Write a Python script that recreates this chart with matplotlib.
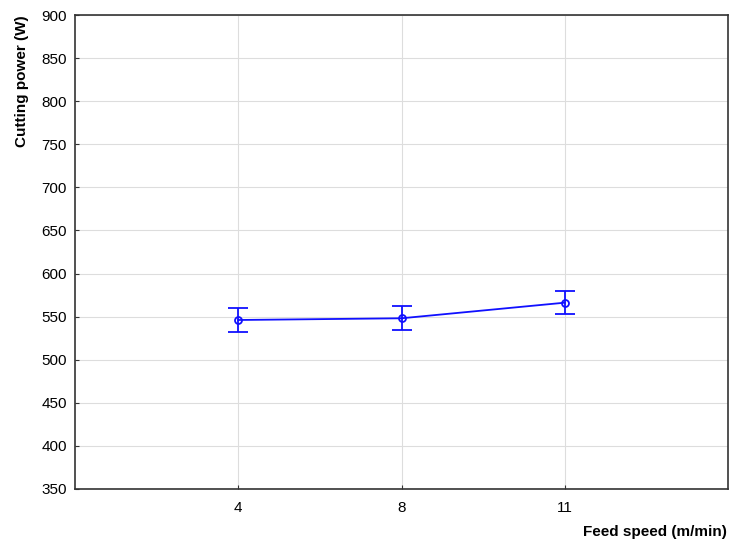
import matplotlib
matplotlib.use('Agg')
import matplotlib.pyplot as plt

# data
feed_speed = ['4', '8', '11']
cutting_power = [546.1, 548.1, 566.2]
error = [14.0, 13.8, 13.4]

plt.rcParams['font.family'] = ['Liberation Sans', 'DejaVu Sans']

fig = plt.figure(figsize=(7.31, 5.42), dpi=100)
ax = fig.add_axes([0.1026, 0.0978, 0.8933, 0.8745])

x = list(range(1, len(feed_speed) + 1))
ax.errorbar(x, cutting_power, yerr=error, color='#1010ff', lw=1.3,
            marker='o', ms=5, mfc='none', mew=1.3, capsize=7, capthick=1.3,
            elinewidth=1.3, zorder=3)

ax.set_xlim(0, 4)
ax.set_ylim(350, 900)
ax.set_xticks(x)
ax.set_xticklabels(feed_speed)
ax.set_yticks(range(350, 901, 50))
ax.grid(True, color='#dddddd', lw=0.8)
ax.tick_params(direction='in', length=3, labelsize=11, colors='#333333',
               labelcolor='black')
ax.tick_params(axis='x', pad=9)
ax.tick_params(axis='y', pad=6)
for s in ax.spines.values():
    s.set_color('#333333')
    s.set_linewidth(1.2)

fig.text(0.995, 0.006, 'Feed speed (m/min)', ha='right', va='bottom',
         fontsize=11, fontweight='bold')
fig.text(0.02, 0.972, 'Cutting power (W)', ha='left', va='top',
         rotation=90, fontsize=11, fontweight='bold')

fig.savefig('out.png', dpi=100)
